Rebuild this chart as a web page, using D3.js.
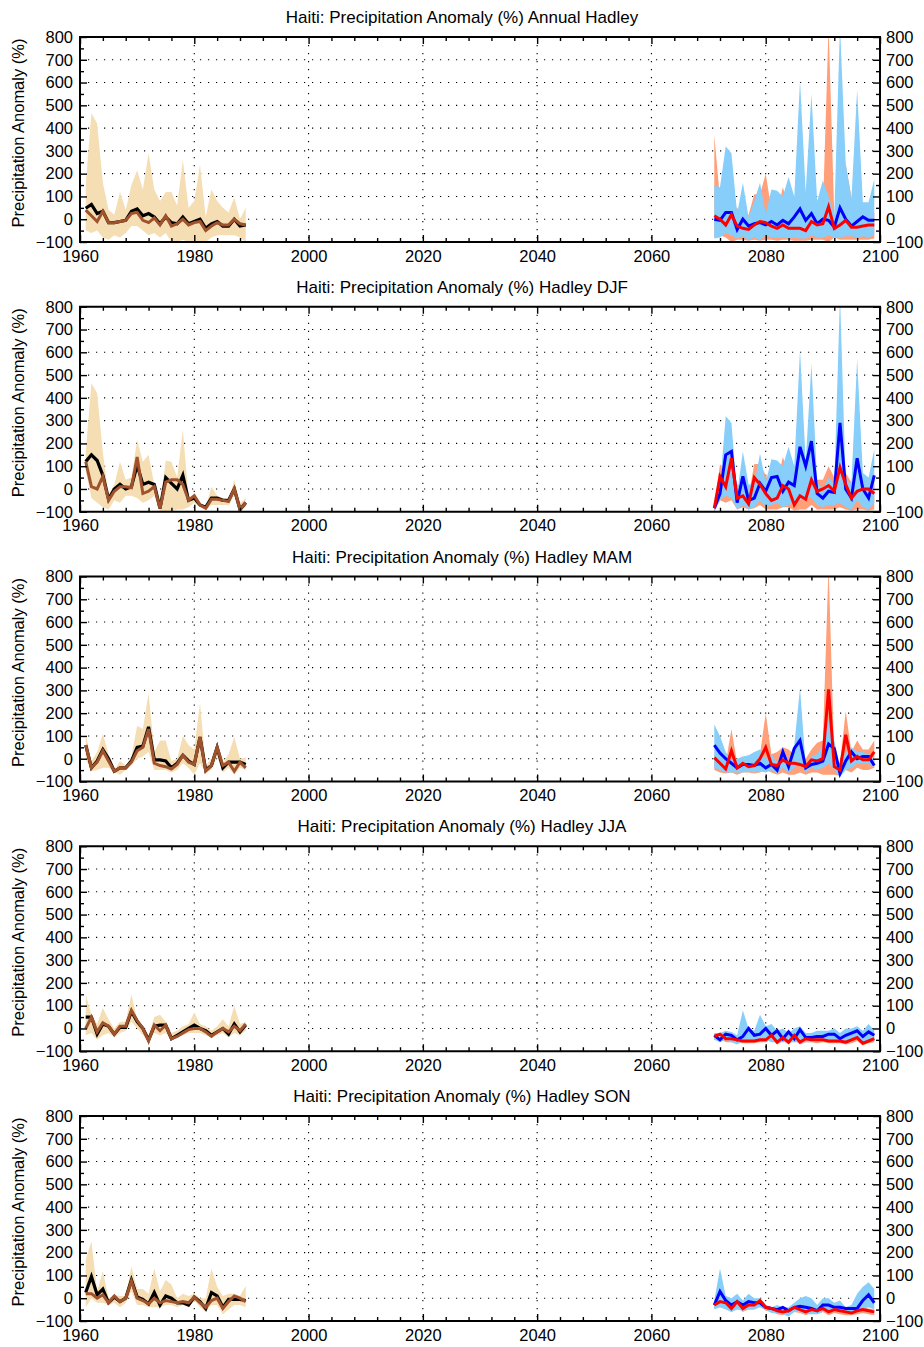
<!DOCTYPE html>
<html><head><meta charset="utf-8">
<script src="https://cdn.jsdelivr.net/npm/d3@7"></script>
<style>body{margin:0;background:#fff}</style>
</head><body><svg id="c" width="924" height="1347"></svg>
<script>
// ---------- categories ----------
const histYears = [1961,1962,1963,1964,1965,1966,1967,1968,1969,1970,1971,1972,1973,1974,1975,1976,1977,1978,1979,1980,1981,1982,1983,1984,1985,1986,1987,1988,1989];
const futYears = [2071,2072,2073,2074,2075,2076,2077,2078,2079,2080,2081,2082,2083,2084,2085,2086,2087,2088,2089,2090,2091,2092,2093,2094,2095,2096,2097,2098,2099];
const xTickLabels = [1960,1980,2000,2020,2040,2060,2080,2100];
const yTickLabels = [-100,0,100,200,300,400,500,600,700,800];
const titles = [
  "Haiti: Precipitation Anomaly (%) Annual Hadley",
  "Haiti: Precipitation Anomaly (%) Hadley DJF",
  "Haiti: Precipitation Anomaly (%) Hadley MAM",
  "Haiti: Precipitation Anomaly (%) Hadley JJA",
  "Haiti: Precipitation Anomaly (%) Hadley SON"];

// ---------- Annual ----------
const annObs = [48,65,25,35,-15,-15,-10,-5,35,45,15,25,10,-20,10,-15,-20,10,-20,-10,0,-40,-20,-10,-30,-30,0,-30,-25];
const annMod = [40,15,-10,35,-15,-15,-10,-5,25,30,-5,-15,5,-25,15,-30,-20,0,-25,-15,-10,-50,-30,-15,-25,-25,0,-20,-25];
const annHistHi = [150,465,420,160,40,20,120,40,150,215,130,290,130,80,120,120,60,260,50,80,240,10,130,80,50,30,95,0,50];
const annHistLo = [-50,-60,-50,-80,-90,-70,-80,-60,-30,-30,-50,-70,-60,-80,-60,-100,-100,-90,-100,-100,-100,-100,-80,-70,-70,-70,-70,-80,-100];
const annBlue = [0,-5,30,30,-45,0,-30,-20,-15,-25,-10,-25,-5,-20,10,45,-5,25,-20,0,-5,-35,50,0,-30,-10,10,-5,-5];
const annRed = [15,0,-25,20,-30,-40,-45,-25,-10,-15,-30,-40,-25,-40,-40,-40,-50,-10,-25,-20,55,-40,-25,-5,-35,-35,-30,-25,-25];
const annBlueHi = [150,140,320,290,25,160,10,80,160,25,130,125,100,185,100,610,120,550,80,170,100,20,850,245,90,570,75,75,175];
const annBlueLo = [-85,-80,-60,-70,-85,-75,-90,-80,-90,-70,-80,-80,-80,-85,-80,-85,-85,-70,-80,-80,-70,-80,-80,-75,-75,-80,-75,-80,-70];
const annRedHi = [370,90,110,60,50,0,20,110,110,200,40,30,140,60,50,40,20,60,60,30,850,20,0,240,100,10,40,20,30];
const annRedLo = [-80,-70,-80,-100,-90,-90,-95,-90,-95,-90,-90,-95,-90,-90,-95,-95,-95,-90,-90,-90,-100,-80,-90,-90,-90,-90,-90,-90,-85];

// ---------- DJF ----------
const djfObs = [120,150,125,60,-45,0,20,0,10,105,20,30,20,-85,50,25,0,60,-50,-40,-70,-80,-40,-40,-50,-50,0,-90,-60];
const djfMod = [120,10,0,55,-50,-10,10,10,5,140,-20,-10,10,-85,30,40,40,20,-50,-30,-70,-85,-45,-45,-50,-55,0,-90,-60];
const djfHistHi = [160,465,420,160,-30,20,120,40,50,215,120,150,20,-80,125,120,50,260,-40,-20,-60,-80,10,-30,-40,-50,40,-60,-40];
const djfHistLo = [80,-40,-60,-80,-90,-50,-60,-30,-30,-40,-60,-50,-30,-100,-100,-100,-90,-90,-80,-60,-80,-90,-70,-70,-70,-70,-30,-100,-80];
const djfBlue = [-85,-20,150,165,-60,55,-50,-40,25,-10,50,55,-10,30,15,185,100,210,-20,-40,-10,-15,290,0,-40,135,0,-40,60];
const djfRed = [-85,55,10,135,-40,-30,-65,50,20,-20,-50,-40,15,0,-70,-30,-45,40,-10,0,15,-10,95,20,-40,-10,0,0,-20];
const djfBlueHi = [-60,10,320,290,-20,165,20,20,155,30,130,125,100,185,100,610,120,550,30,0,50,20,850,30,30,570,70,50,175];
const djfBlueLo = [-100,-50,-30,-40,-90,-70,-90,-80,-50,-80,-70,-60,-80,-70,-60,-50,-40,-40,-70,-80,-70,-70,-60,-80,-90,-50,-80,-90,-60];
const djfRedHi = [-80,110,50,150,20,10,-30,110,110,60,20,30,140,70,30,40,20,60,40,40,100,50,130,70,30,40,40,30,20];
const djfRedLo = [-100,-50,-60,-50,-90,-80,-90,-85,-70,-90,-90,-90,-80,-80,-95,-90,-90,-70,-90,-90,-90,-90,-80,-90,-95,-90,-90,-95,-90];

// ---------- MAM ----------
const mamObs = [60,-40,-10,40,0,-55,-40,-40,-10,50,55,140,-5,-5,-10,-40,-20,15,-10,-25,95,-50,-30,50,-40,-15,-15,-15,-25];
const mamMod = [60,-40,-15,35,-10,-55,-40,-40,-15,35,50,130,-20,-30,-35,-45,-25,15,-15,-25,95,-55,-30,50,-30,-15,-55,-15,-40];
const mamHistHi = [110,-10,30,110,20,-50,-10,-30,10,145,130,290,30,80,80,-10,0,100,60,40,245,-30,0,70,-20,20,95,0,5];
const mamHistLo = [0,-55,-50,-40,-40,-60,-70,-50,-30,0,10,30,-50,-50,-50,-60,-50,-20,-40,-70,-20,-60,-50,10,-60,-40,-70,-40,-50];
const mamBlue = [60,25,0,-20,-40,-25,-25,-30,-20,-40,-25,-50,30,-35,45,80,-40,-25,-20,-10,65,45,-65,-10,30,0,10,10,-30];
const mamRed = [5,-20,-45,35,-40,-20,-35,-30,0,50,-25,-30,-5,-20,-20,-25,-35,-5,-10,0,305,-35,-50,105,-10,10,-5,-5,30];
const mamBlueHi = [150,100,30,-10,0,10,15,30,40,0,20,-20,40,-10,60,310,-30,10,20,60,170,80,-40,30,50,30,30,20,0];
const mamBlueLo = [-40,-50,-60,-60,-60,-60,-55,-60,-55,-60,-50,-65,-40,-60,-40,-20,-60,-40,-50,-40,-20,-50,-80,-50,-40,-20,-20,-20,-40];
const mamRedHi = [20,-10,-20,130,-20,10,-20,0,20,200,20,30,50,40,20,-10,0,40,70,80,850,0,-20,210,30,80,40,40,80];
const mamRedLo = [-50,-60,-65,-60,-70,-60,-60,-65,-60,-50,-60,-70,-60,-70,-70,-60,-70,-60,-60,-70,-70,-70,-75,-50,-60,-40,-50,-50,-40];

// ---------- JJA ----------
const jjaObs = [50,50,-25,20,10,-25,5,5,75,30,0,-50,10,15,15,-45,-30,-15,0,15,0,-10,-30,-15,0,-25,20,-15,15];
const jjaMod = [0,50,-15,25,10,-25,10,10,80,35,0,-55,15,-10,15,-45,-35,-20,-5,0,0,-15,-35,-15,0,-15,10,-10,20];
const jjaHistHi = [150,60,20,90,40,0,30,30,150,40,10,-30,50,60,30,-20,-10,10,20,70,20,10,-10,10,40,10,100,20,30];
const jjaHistLo = [-30,-20,-50,-30,-20,-40,-20,-10,30,0,-30,-60,-20,-30,-20,-50,-40,-30,-20,-20,-20,-30,-40,-30,-20,-40,-20,-30,-10];
const jjaBlue = [-30,-50,-25,-30,-50,-35,0,-30,-25,0,-30,-10,-45,-15,-45,-5,-40,-40,-35,-35,-25,-25,-45,-30,-20,-10,-35,-15,-30];
const jjaRed = [-35,-25,-45,-45,-50,-55,-55,-55,-50,-50,-30,-60,-40,-60,-30,-60,-45,-50,-50,-50,-55,-55,-55,-60,-50,-40,-65,-55,-45];
const jjaBlueHi = [-20,-20,-10,-15,-30,80,0,-10,60,10,20,-10,0,-20,0,10,-20,-20,-10,-10,-10,0,-20,0,0,10,-10,20,-10];
const jjaBlueLo = [-50,-60,-50,-60,-70,-55,-50,-55,-50,-50,-60,-60,-60,-60,-60,-60,-60,-60,-55,-55,-55,-55,-60,-55,-50,-50,-60,-55,-55];
const jjaRedHi = [-30,-20,-30,-40,-40,-40,-45,-45,-40,-40,-20,-45,-30,-45,-25,-45,-35,-40,-15,-40,-45,-40,-45,-45,-40,-30,-50,-40,-35];
const jjaRedLo = [-50,-45,-60,-60,-65,-65,-65,-65,-60,-60,-50,-70,-55,-70,-50,-70,-60,-60,-65,-60,-65,-65,-65,-70,-65,-55,-75,-65,-60];

// ---------- SON ----------
const sonObs = [25,95,15,40,-20,5,-15,0,80,5,-5,-25,25,-30,10,0,-20,-20,-30,5,-15,-45,25,10,-40,-5,-5,-5,-10];
const sonMod = [20,20,0,15,-20,10,-15,0,75,0,-10,-25,0,-20,-10,-15,-20,-15,-20,5,-20,-40,-10,0,-45,-15,10,0,-15];
const sonHistHi = [170,250,30,120,0,15,10,10,140,40,40,20,130,30,80,60,0,20,10,20,0,0,130,50,10,20,20,10,55];
const sonHistLo = [-40,0,-20,-20,-30,-20,-40,-20,30,-30,-30,-40,-40,-40,-30,-30,-40,-30,-40,-10,-40,-60,-30,-30,-70,-50,-30,-30,-40];
const sonBlue = [-30,30,-10,-30,-15,-30,-15,-20,-20,-40,-45,-50,-40,-55,-40,-35,-40,-45,-55,-30,-30,-40,-40,-45,-45,-45,-10,15,-20];
const sonRed = [-30,-15,-20,-45,-15,-45,-30,-30,-10,-40,-45,-55,-60,-55,-40,-50,-60,-50,-55,-45,-60,-50,-55,-60,-65,-55,-50,-55,-60];
const sonBlueHi = [-10,130,10,0,20,-10,20,0,0,-30,-40,-30,-40,-40,-20,0,10,0,-30,0,0,-20,-10,-40,-30,20,50,70,40];
const sonBlueLo = [-50,-40,-50,-60,-50,-55,-50,-50,-40,-50,-65,-65,-70,-80,-60,-60,-70,-70,-70,-60,-60,-60,-60,-60,-60,-55,-50,-40,-50];
const sonRedHi = [-20,0,0,-30,10,-20,0,-10,0,-30,-40,-40,-50,-45,-30,-40,-50,-40,-45,-30,-50,-40,-45,-50,-55,-45,-40,-45,-50];
const sonRedLo = [-45,-40,-45,-60,-40,-60,-50,-50,-35,-55,-60,-70,-75,-70,-60,-65,-75,-65,-70,-60,-75,-65,-70,-75,-75,-70,-65,-70,-75];

const panels = [
  {obs:annObs,mod:annMod,hHi:annHistHi,hLo:annHistLo,blue:annBlue,red:annRed,bHi:annBlueHi,bLo:annBlueLo,rHi:annRedHi,rLo:annRedLo},
  {obs:djfObs,mod:djfMod,hHi:djfHistHi,hLo:djfHistLo,blue:djfBlue,red:djfRed,bHi:djfBlueHi,bLo:djfBlueLo,rHi:djfRedHi,rLo:djfRedLo},
  {obs:mamObs,mod:mamMod,hHi:mamHistHi,hLo:mamHistLo,blue:mamBlue,red:mamRed,bHi:mamBlueHi,bLo:mamBlueLo,rHi:mamRedHi,rLo:mamRedLo},
  {obs:jjaObs,mod:jjaMod,hHi:jjaHistHi,hLo:jjaHistLo,blue:jjaBlue,red:jjaRed,bHi:jjaBlueHi,bLo:jjaBlueLo,rHi:jjaRedHi,rLo:jjaRedLo},
  {obs:sonObs,mod:sonMod,hHi:sonHistHi,hLo:sonHistLo,blue:sonBlue,red:sonRed,bHi:sonBlueHi,bLo:sonBlueLo,rHi:sonRedHi,rLo:sonRedLo}
];

const FONT = '"Liberation Sans", Arial, Helvetica, sans-serif';
const svg = d3.select("#c");
svg.append("rect").attr("width",924).attr("height",1347).attr("fill","#fff");
const PH = 205;
const tops = [37, 306.75, 576.5, 846.25, 1116];
const x = d3.scaleLinear().domain([1960,2100]).range([80,880]);
const y = d3.scaleLinear().domain([-100,800]).range([PH,0]);

const minorX = d3.range(1960,2101,4).filter(v => (v-1960)%20!==0);
const minorY = d3.range(-50,800,100);
const gridX = xTickLabels.filter(v => v>1960 && v<2100);
const gridY = yTickLabels.filter(v => v>-100 && v<800);

function styleAxis(a){
  a.select(".domain").remove();
  a.selectAll("line").attr("stroke","#000").attr("stroke-width",1.4);
  a.selectAll("text").attr("font-family",FONT).attr("font-size",16.5).attr("fill","#000");
  a.attr("font-family",FONT);
}

panels.forEach((p,i)=>{
  const g = svg.append("g").attr("transform",`translate(0,${tops[i]})`);
  const cid = "clip"+i;
  g.append("clipPath").attr("id",cid).append("rect").attr("x",80).attr("y",0).attr("width",800).attr("height",PH);

  // title
  svg.append("text").attr("x",462).attr("y",tops[i]-14).attr("text-anchor","middle")
    .attr("font-family",FONT).attr("font-size",17).text(titles[i]);
  // y label
  svg.append("text").attr("transform",`translate(24,${tops[i]+96}) rotate(-90)`)
    .attr("text-anchor","middle").attr("font-family",FONT).attr("font-size",16.5)
    .text("Precipitation Anomaly (%)");

  // grid
  const grid = g.append("g").attr("stroke","#000").attr("stroke-width",1.1).attr("stroke-dasharray","1.2,6.8");
  grid.selectAll("line.h").data(gridY).join("line").attr("class","h")
    .attr("x1",80).attr("x2",880).attr("y1",d=>y(d)).attr("y2",d=>y(d));
  grid.selectAll("line.v").data(gridX).join("line").attr("class","v")
    .attr("y1",0).attr("y2",PH).attr("x1",d=>x(d)).attr("x2",d=>x(d));

  const plot = g.append("g").attr("clip-path",`url(#${cid})`);
  const hist = histYears.map((yr,j)=>({yr,lo:p.hLo[j],hi:p.hHi[j],obs:p.obs[j],mod:p.mod[j]}));
  const fut = futYears.map((yr,j)=>({yr,bLo:p.bLo[j],bHi:p.bHi[j],rLo:p.rLo[j],rHi:p.rHi[j],blue:p.blue[j],red:p.red[j]}));

  const area = (lo,hi)=>d3.area().x(d=>x(d.yr)).y0(d=>y(d[lo])).y1(d=>y(d[hi]));
  const line = k=>d3.line().x(d=>x(d.yr)).y(d=>y(d[k]));

  plot.append("path").datum(hist).attr("d",area("lo","hi")).attr("fill","#f5deb3");
  plot.append("path").datum(fut).attr("d",area("rLo","rHi")).attr("fill","#ffa07a");
  plot.append("path").datum(fut).attr("d",area("bLo","bHi")).attr("fill","#87cefa");

  plot.append("path").datum(hist).attr("d",line("obs")).attr("fill","none").attr("stroke","#000").attr("stroke-width",3.2);
  plot.append("path").datum(hist).attr("d",line("mod")).attr("fill","none").attr("stroke","#a0522d").attr("stroke-width",3);
  plot.append("path").datum(fut).attr("d",line("blue")).attr("fill","none").attr("stroke","#0000ff").attr("stroke-width",3);
  plot.append("path").datum(fut).attr("d",line("red")).attr("fill","none").attr("stroke","#ff0000").attr("stroke-width",3);

  // axes
  const fmt = d3.format("d");
  const ab = g.append("g").attr("transform",`translate(0,${PH})`)
    .call(d3.axisBottom(x).tickValues(xTickLabels).tickSize(-7).tickPadding(8).tickFormat(fmt));
  styleAxis(ab);
  styleAxis(g.append("g").attr("transform",`translate(0,${PH})`).call(d3.axisBottom(x).tickValues(minorX).tickSize(-4).tickFormat("")));
  styleAxis(g.append("g").call(d3.axisTop(x).tickValues(xTickLabels).tickSize(-7).tickFormat("")));
  styleAxis(g.append("g").call(d3.axisTop(x).tickValues(minorX).tickSize(-4).tickFormat("")));

  const al = g.append("g").attr("transform","translate(80,0)")
    .call(d3.axisLeft(y).tickValues(yTickLabels).tickSize(-7).tickPadding(7).tickFormat(fmt));
  styleAxis(al);
  styleAxis(g.append("g").attr("transform","translate(80,0)").call(d3.axisLeft(y).tickValues(minorY).tickSize(-4).tickFormat("")));
  const ar = g.append("g").attr("transform","translate(880,0)")
    .call(d3.axisRight(y).tickValues(yTickLabels).tickSize(-7).tickPadding(6).tickFormat(fmt));
  styleAxis(ar);
  styleAxis(g.append("g").attr("transform","translate(880,0)").call(d3.axisRight(y).tickValues(minorY).tickSize(-4).tickFormat("")));

  g.append("rect").attr("x",80).attr("y",0).attr("width",800).attr("height",PH)
    .attr("fill","none").attr("stroke","#000").attr("stroke-width",2);
});
</script></body></html>
